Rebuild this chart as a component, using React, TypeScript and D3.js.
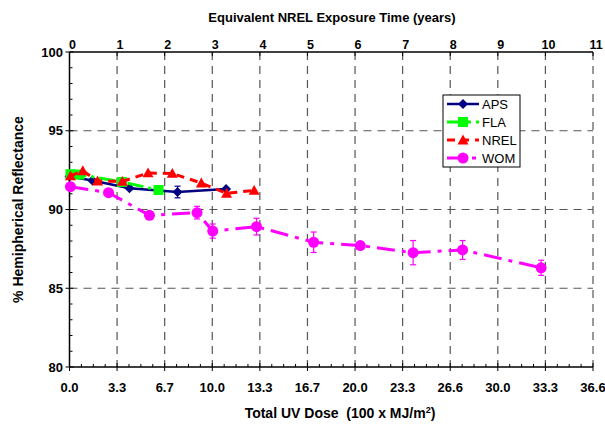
import React from "react";
import * as d3 from "d3";

const yearTicks = [0, 1, 2, 3, 4, 5, 6, 7, 8, 9, 10, 11];
const doseLabels = ["0.0", "3.3", "6.7", "10.0", "13.3", "16.7", "20.0", "23.3", "26.6", "30.0", "33.3", "36.6"];
const yTicks = [80, 85, 90, 95, 100];

const apsX = [0.0, 0.48, 1.26, 2.27, 3.29];
const apsY = [92.1, 91.84, 91.35, 91.11, 91.3];
const apsErr = [0, 0, 0, 0.37, 0];

const flaX = [0.02, 0.21, 1.1, 1.87];
const flaY = [92.24, 92.22, 91.75, 91.24];

const nrelX = [0.02, 0.28, 0.59, 1.11, 1.65, 2.16, 2.77, 3.3, 3.88];
const nrelY = [92.13, 92.46, 91.81, 91.78, 92.32, 92.29, 91.68, 91.03, 91.21];

const womX = [0.02, 0.82, 1.68, 2.68, 3.01, 3.93, 5.13, 6.11, 7.22, 8.26, 9.91];
const womY = [91.45, 91.07, 89.63, 89.8, 88.63, 88.91, 87.92, 87.71, 87.26, 87.43, 86.3];
const womErr = [0, 0, 0.2, 0.4, 0.45, 0.53, 0.65, 0.15, 0.77, 0.6, 0.48];

const seriesNames = ["APS", "FLA", "NREL", "WOM"];

const W = 605, H = 425;
const L = 69.5, R = 593, T = 52, B = 367;

export default function App() {
  const x = d3.scaleLinear().domain([0, 11]).range([L, R]);
  const y = d3.scaleLinear().domain([80, 100]).range([B, T]);
  const line = d3.line<[number, number]>().x(d => x(d[0])).y(d => y(d[1]));

  const aps = apsX.map((v, i) => [v, apsY[i]] as [number, number]);
  const fla = flaX.map((v, i) => [v, flaY[i]] as [number, number]);
  const nrel = nrelX.map((v, i) => [v, nrelY[i]] as [number, number]);
  const wom = womX.map((v, i) => [v, womY[i]] as [number, number]);

  const minorX: number[] = [];
  for (let i = 0; i < 11; i++) for (let k = 1; k < 4; k++) minorX.push(i + k / 4);
  const minorY: number[] = [];
  for (let v = 81; v < 100; v++) if (v % 5 !== 0) minorY.push(v);

  const font = "Arial, 'Liberation Sans', sans-serif";

  const diamond = (cx: number, cy: number, s: number) =>
    `M${cx},${cy - s}L${cx + s},${cy}L${cx},${cy + s}L${cx - s},${cy}Z`;
  const tri = (cx: number, cy: number, s: number) =>
    `M${cx},${cy - s}L${cx + s},${cy + s * 0.8}L${cx - s},${cy + s * 0.8}Z`;

  const errBar = (px: number, py: number, e: number, color: string, key: string) => {
    if (!e) return null;
    const y1 = y(py + e), y2 = y(py - e);
    return (
      <g key={key} stroke={color} strokeWidth={1.2}>
        <line x1={px} x2={px} y1={y1} y2={y2} />
        <line x1={px - 3} x2={px + 3} y1={y1} y2={y1} />
        <line x1={px - 3} x2={px + 3} y1={y2} y2={y2} />
      </g>
    );
  };

  const legendX = 443, legendY = 95;
  const legendRows = [104, 122, 140, 158];

  return (
    <svg width={W} height={H} style={{ position: "absolute", left: 0, top: 0, background: "#fff" }} fontFamily={font}>
      <rect x={0} y={0} width={W} height={H} fill="#fff" />
      {/* gridlines */}
      {yearTicks.filter(t => t > 0).map(t => (
        <line key={"gx" + t} x1={x(t)} x2={x(t)} y1={T} y2={B} stroke="#555" strokeWidth={1.2} strokeDasharray="8,6" />
      ))}
      {[85, 90, 95].map(v => (
        <line key={"gy" + v} x1={L} x2={R} y1={y(v)} y2={y(v)} stroke="#555" strokeWidth={1.2} strokeDasharray="8,6" />
      ))}
      {/* axes */}
      <line x1={L} x2={L} y1={T} y2={B} stroke="#000" strokeWidth={1.5} />
      <line x1={L} x2={R} y1={B} y2={B} stroke="#000" strokeWidth={1.5} />
      <line x1={L} x2={R} y1={T} y2={T} stroke="#000" strokeWidth={1.5} />
      {yearTicks.map(t => (
        <g key={"bt" + t}>
          <line x1={x(t)} x2={x(t)} y1={B - 4} y2={B + 4} stroke="#000" strokeWidth={1} />
          <line x1={x(t)} x2={x(t)} y1={T} y2={T + 4} stroke="#000" strokeWidth={1} />
        </g>
      ))}
      {minorX.map((t, i) => (
        <line key={"mx" + i} x1={x(t)} x2={x(t)} y1={B - 3} y2={B} stroke="#000" strokeWidth={1} />
      ))}
      {yTicks.map(v => (
        <line key={"yt" + v} x1={L - 4} x2={L + 4} y1={y(v)} y2={y(v)} stroke="#000" strokeWidth={1} />
      ))}
      {minorY.map(v => (
        <line key={"my" + v} x1={L} x2={L + 3} y1={y(v)} y2={y(v)} stroke="#000" strokeWidth={1} />
      ))}
      {/* tick labels */}
      {yearTicks.map((t, i) => (
        <text key={"bl" + t} x={x(t)} y={392} textAnchor="middle" fontSize={13} fontWeight="bold">{doseLabels[i]}</text>
      ))}
      {yearTicks.map(t => (
        <text key={"tl" + t} x={x(t) + 3} y={49} textAnchor="middle" fontSize={12.5} fontWeight="bold">{t}</text>
      ))}
      {yTicks.map(v => (
        <text key={"yl" + v} x={63} y={y(v) + 4.5} textAnchor="end" fontSize={13} fontWeight="bold">{v}</text>
      ))}
      {/* titles */}
      <text x={332} y={22} textAnchor="middle" fontSize={13} fontWeight="bold">Equivalent NREL Exposure Time (years)</text>
      <text x={340} y={418} textAnchor="middle" fontSize={14} fontWeight="bold" style={{ whiteSpace: "pre" }}>
        {"Total UV Dose  (100 x MJ/m"}<tspan dy={-5} fontSize={9}>2</tspan><tspan dy={5}>)</tspan>
      </text>
      <text transform={`translate(23,${(T + B) / 2}) rotate(-90)`} textAnchor="middle" fontSize={14} fontWeight="bold">% Hemipherical Reflectance</text>

      {/* APS */}
      <path d={line(aps) || ""} fill="none" stroke="#000080" strokeWidth={2.5} />
      {aps.map((d, i) => errBar(x(d[0]), d[1], apsErr[i], "#000080", "ae" + i))}
      {aps.map((d, i) => <path key={"ap" + i} d={diamond(x(d[0]), y(d[1]), 5)} fill="#000080" />)}

      {/* FLA */}
      <path d={line(fla) || ""} fill="none" stroke="#00FF00" strokeWidth={3} strokeDasharray="16,5,3,5" />
      {fla.map((d, i) => <rect key={"fp" + i} x={x(d[0]) - 5} y={y(d[1]) - 5} width={10} height={10} fill="#00FF00" />)}

      {/* NREL */}
      <path d={line(nrel) || ""} fill="none" stroke="#FF0000" strokeWidth={3} strokeDasharray="8,6" />
      {nrel.map((d, i) => <path key={"np" + i} d={tri(x(d[0]), y(d[1]), 5.5)} fill="#FF0000" />)}

      {/* WOM */}
      <path d={line(wom) || ""} fill="none" stroke="#FF00FF" strokeWidth={3} strokeDasharray="18,7,4,7" />
      {wom.map((d, i) => errBar(x(d[0]), d[1], womErr[i], "#FF00FF", "we" + i))}
      {wom.map((d, i) => <circle key={"wp" + i} cx={x(d[0])} cy={y(d[1])} r={5.5} fill="#FF00FF" />)}

      {/* legend */}
      <rect x={legendX} y={legendY} width={77} height={72} fill="#fff" stroke="#000" strokeWidth={1} />
      {seriesNames.map((n, i) => {
        const ly = legendRows[i];
        const lx1 = legendX + 4, lx2 = legendX + 36, mx = legendX + 20;
        let sample: React.ReactNode = null;
        if (n === "APS") sample = (<g><line x1={lx1} x2={lx2} y1={ly} y2={ly} stroke="#000080" strokeWidth={2.5} /><path d={diamond(mx, ly, 5)} fill="#000080" /></g>);
        if (n === "FLA") sample = (<g><line x1={lx1} x2={lx2} y1={ly} y2={ly} stroke="#00FF00" strokeWidth={3} strokeDasharray="16,5,3,5" /><rect x={mx - 5} y={ly - 5} width={10} height={10} fill="#00FF00" /></g>);
        if (n === "NREL") sample = (<g><line x1={lx1} x2={lx2} y1={ly} y2={ly} stroke="#FF0000" strokeWidth={3} strokeDasharray="8,6" /><path d={tri(mx, ly, 5.5)} fill="#FF0000" /></g>);
        if (n === "WOM") sample = (<g><line x1={lx1} x2={lx2} y1={ly} y2={ly} stroke="#FF00FF" strokeWidth={3} strokeDasharray="18,7,4,7" /><circle cx={mx} cy={ly} r={5.5} fill="#FF00FF" /></g>);
        return (
          <g key={"lg" + n}>
            {sample}
            <text x={legendX + 39} y={ly + 4.5} fontSize={13}>{n}</text>
          </g>
        );
      })}
    </svg>
  );
}
